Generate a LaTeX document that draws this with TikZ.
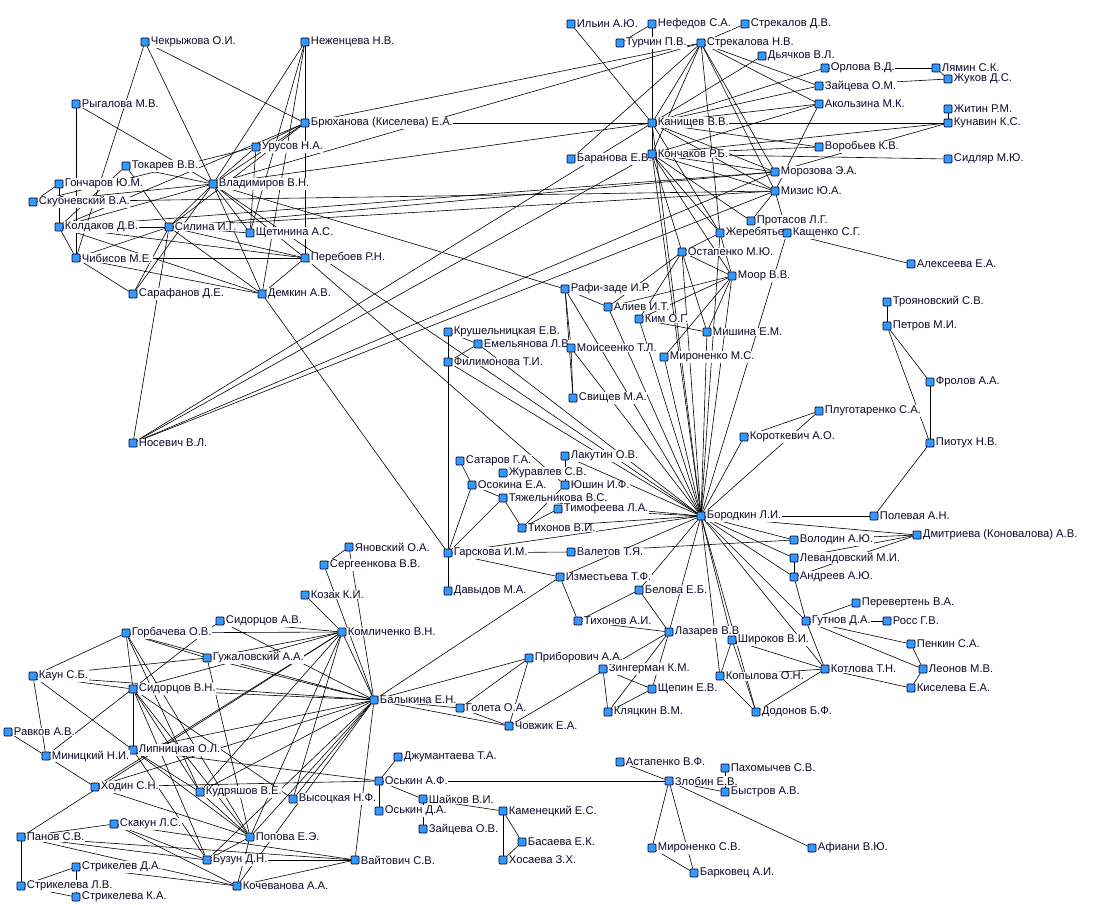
\documentclass[tikz,border=0pt]{standalone}
\usepackage{fontspec}
\setmainfont{Liberation Sans}
\usetikzlibrary{backgrounds}
\definecolor{nodeblue}{RGB}{51,153,255}
\definecolor{txt}{RGB}{10,10,40}
\tikzset{
  sq/.style={draw=black!85!blue,fill=nodeblue,line width=0.5pt,minimum size=6pt,inner sep=0pt,rounded corners=0.6pt},
  lbl/.style={font=\fontsize{8.4}{9}\selectfont,text=txt,fill=white,inner sep=0.4pt,label distance=0.6pt},
  lnk/.style={line width=0.45pt,black}
}
\newcommand\mkn[4]{\node[sq,label={[lbl]right:#4}] (#1) at (#2,#3) {};}
\newcommand\lk[2]{\draw[lnk] (#1) -- (#2);}
\begin{document}
\begin{tikzpicture}[x=0.75pt,y=-0.75pt]
\useasboundingbox (0,0) rectangle (1116,905);
% ---- nodes ----
\mkn{chekr}{145}{42}{Чекрыжова О.И.}
\mkn{nezh}{305}{42}{Неженцева Н.В.}
\mkn{ryg}{76}{104}{Рыгалова М.В.}
\mkn{bruh}{305}{123}{Брюханова (Киселева) Е.А.}
\mkn{urus}{256}{147}{Урусов Н.А.}
\mkn{tok}{126}{166}{Токарев В.В.}
\mkn{gonch}{59}{184}{Гончаров Ю.М.}
\mkn{vlad}{213}{184}{Владимиров В.Н.}
\mkn{skub}{33}{202}{Скубневский В.А.}
\mkn{kold}{59}{227}{Колдаков Д.В.}
\mkn{silina}{169}{227}{Силина И.Г.}
\mkn{shchet}{250}{233}{Щетинина А.С.}
\mkn{chib}{76}{258}{Чибисов М.Е.}
\mkn{pereb}{305}{258}{Перебоев Р.Н.}
\mkn{saraf}{133}{294}{Сарафанов Д.Е.}
\mkn{demk}{262}{294}{Демкин А.В.}
\mkn{nosev}{133}{443}{Носевич В.Л.}
\mkn{ilin}{571}{24}{Ильин А.Ю.}
\mkn{nefed}{652}{24}{Нефедов С.А.}
\mkn{strekd}{745}{24}{Стрекалов Д.В.}
\mkn{turch}{620}{43}{Турчин П.В.}
\mkn{streka}{701}{43}{Стрекалова Н.В.}
\mkn{dyach}{762}{56}{Дьячков В.Л.}
\mkn{orlova}{825}{68}{Орлова В.Д.}
\mkn{lyamin}{936}{68}{Лямин С.К.}
\mkn{zhukov}{948}{79}{Жуков Д.С.}
\mkn{zaitom}{819}{86}{Зайцева О.М.}
\mkn{akolz}{819}{104}{Акользина М.К.}
\mkn{zhitin}{948}{109}{Житин Р.М.}
\mkn{kanish}{652}{123}{Канищев В.В.}
\mkn{kunav}{948}{123}{Кунавин К.С.}
\mkn{baran}{571}{159}{Баранова Е.В.}
\mkn{konch}{652}{154}{Кончаков Р.Б.}
\mkn{vorob}{819}{147}{Воробьев К.В.}
\mkn{sidl}{948}{159}{Сидляр М.Ю.}
\mkn{moroz}{775}{172}{Морозова Э.А.}
\mkn{mizis}{775}{191}{Мизис Ю.А.}
\mkn{protas}{751}{221}{Протасов Л.Г.}
\mkn{zhereb}{720}{233}{Жеребятьев}
\mkn{kasch}{787}{233}{Кащенко С.Г.}
\mkn{ostap}{682}{252}{Остапенко М.Ю.}
\mkn{alex}{911}{264}{Алексеева Е.А.}
\mkn{moor}{732}{276}{Моор В.В.}
\mkn{rafi}{565}{289}{Рафи-заде И.Р.}
\mkn{aliev}{608}{307}{Алиев И.Т.}
\mkn{kim}{639}{319}{Ким О.Г.}
\mkn{mishina}{707}{332}{Мишина Е.М.}
\mkn{krush}{448}{332}{Крушельницкая Е.В.}
\mkn{emel}{478}{344}{Емельянова Л.В.}
\mkn{moiss}{571}{348}{Моисеенко Т.Л.}
\mkn{mironms}{664}{357}{Мироненко М.С.}
\mkn{filim}{448}{362}{Филимонова Т.И.}
\mkn{svish}{573}{398}{Свищев М.А.}
\mkn{troyan}{887}{302}{Трояновский С.В.}
\mkn{petrov}{887}{326}{Петров М.И.}
\mkn{frolov}{930}{382}{Фролов А.А.}
\mkn{plugo}{819}{411}{Плуготаренко С.А.}
\mkn{korotk}{744}{437}{Короткевич А.О.}
\mkn{piotuh}{930}{443}{Пиотух Н.В.}
\mkn{satar}{460}{461}{Сатаров Г.А.}
\mkn{lakut}{565}{456}{Лакутин О.В.}
\mkn{zhurav}{503}{473}{Журавлев С.В.}
\mkn{osok}{472}{485}{Осокина Е.А.}
\mkn{yushin}{565}{485}{Юшин И.Ф.}
\mkn{tyazh}{503}{498}{Тяжельникова В.С.}
\mkn{timof}{558}{509}{Тимофеева Л.А.}
\mkn{borod}{701}{516}{Бородкин Л.И.}
\mkn{polev}{874}{516}{Полевая А.Н.}
\mkn{tihvi}{522}{528}{Тихонов В.И.}
\mkn{volod}{794}{540}{Володин А.Ю.}
\mkn{dmitr}{917}{535}{Дмитриева (Коновалова) А.В.}
\mkn{garsk}{448}{553}{Гарскова И.М.}
\mkn{valet}{571}{552}{Валетов Т.Я.}
\mkn{levand}{794}{558}{Левандовский М.И.}
\mkn{izmest}{560}{577}{Изместьева Т.Ф.}
\mkn{andreev}{794}{577}{Андреев А.Ю.}
\mkn{davyd}{448}{591}{Давыдов М.А.}
\mkn{belova}{639}{590}{Белова Е.Б.}
\mkn{perev}{856}{603}{Перевертень В.А.}
\mkn{gutnov}{806}{621}{Гутнов Д.А.}
\mkn{ross}{887}{621}{Росс Г.В.}
\mkn{tihai}{578}{621}{Тихонов А.И.}
\mkn{lazar}{669}{632}{Лазарев В.В}
\mkn{shirok}{732}{640}{Широков В.И.}
\mkn{penkin}{911}{644}{Пенкин С.А.}
\mkn{zinger}{603}{669}{Зингерман К.М.}
\mkn{kopyl}{720}{676}{Копылова О.Н.}
\mkn{kotlova}{825}{669}{Котлова Т.Н.}
\mkn{leonov}{923}{669}{Леонов М.В.}
\mkn{shchep}{652}{689}{Щепин Е.В.}
\mkn{kiseleva}{911}{688}{Киселева Е.А.}
\mkn{klyats}{608}{712}{Кляцкин В.М.}
\mkn{dodon}{756}{712}{Додонов Б.Ф.}
\mkn{yanov}{349}{547}{Яновский О.А.}
\mkn{serg}{324}{565}{Сергеенкова В.В.}
\mkn{kozak}{305}{595}{Козак К.И.}
\mkn{komlich}{342}{632}{Комличенко В.Н.}
\mkn{sidav}{220}{621}{Сидорцов А.В.}
\mkn{gorb}{126}{633}{Горбачева О.В.}
\mkn{guzh}{207}{658}{Гужаловский А.А.}
\mkn{pribor}{529}{658}{Приборович А.А.}
\mkn{kaun}{33}{676}{Каун С.Б.}
\mkn{sidvn}{133}{689}{Сидорцов В.Н.}
\mkn{balyk}{374}{700}{Балыкина Е.Н.}
\mkn{goleta}{460}{708}{Голета О.А.}
\mkn{chovzh}{509}{726}{Човжик Е.А.}
\mkn{ravkov}{8}{732}{Равков А.В.}
\mkn{lipn}{133}{750}{Липницкая О.Л.}
\mkn{minits}{46}{756}{Миницкий Н.И.}
\mkn{dzhum}{398}{757}{Джумантаева Т.А.}
\mkn{astap}{620}{762}{Астапенко В.Ф.}
\mkn{pahom}{725}{768}{Пахомычев С.В.}
\mkn{hodin}{95}{787}{Ходин С.Н.}
\mkn{oskaf}{379}{781}{Оськин А.Ф.}
\mkn{zlobin}{669}{781}{Злобин Е.В.}
\mkn{kudr}{200}{792}{Кудряшов В.Е.}
\mkn{bystr}{725}{792}{Быстров А.В.}
\mkn{vysots}{293}{799}{Высоцкая Н.Ф.}
\mkn{shaik}{423}{799}{Шайков В.И.}
\mkn{kamen}{503}{811}{Каменецкий Е.С.}
\mkn{oskda}{379}{811}{Оськин Д.А.}
\mkn{skakun}{114}{824}{Скакун Л.С.}
\mkn{zaitov}{423}{829}{Зайцева О.В.}
\mkn{panov}{21}{837}{Панов С.В.}
\mkn{popova}{250}{837}{Попова Е.Э.}
\mkn{basaeva}{522}{842}{Басаева Е.К.}
\mkn{mironsv}{652}{848}{Мироненко С.В.}
\mkn{afiani}{812}{848}{Афиани В.Ю.}
\mkn{buzun}{207}{860}{Бузун Д.Н.}
\mkn{strikda}{76}{867}{Стрикелев Д.А.}
\mkn{vaitov}{355}{860}{Вайтович С.В.}
\mkn{hosaeva}{503}{860}{Хосаева З.Х.}
\mkn{barkov}{694}{873}{Барковец А.И.}
\mkn{striklv}{21}{886}{Стрикелева Л.В.}
\mkn{kochev}{237}{886}{Кочеванова А.А.}
\mkn{strikka}{76}{897}{Стрикелева К.А.}
% ---- links ----
\begin{scope}[on background layer]
\foreach \a/\b in {chekr/vlad,chekr/chib,chekr/bruh,ryg/chib,ryg/vlad,nezh/bruh,bruh/pereb,nezh/vlad,nezh/shchet,nezh/demk,
bruh/vlad,bruh/urus,bruh/silina,bruh/kold,bruh/kanish,bruh/streka,tok/vlad,tok/kold,tok/silina,gonch/skub,gonch/kold,
skub/vlad,kold/vlad,kold/chib,kold/silina,kold/demk,kold/pereb,chib/silina,chib/saraf,chib/demk,chib/pereb,silina/saraf,
silina/nosev,silina/vlad,silina/demk,silina/pereb,silina/shchet,vlad/shchet,vlad/pereb,vlad/demk,vlad/urus,urus/shchet,
urus/skub,pereb/demk,saraf/vlad,demk/garsk,vlad/kanish,vlad/streka,vlad/rafi,vlad/borod,silina/moroz,silina/mizis,
skub/mizis,kold/moroz,nosev/kanish,nosev/konch,nosev/moroz,nosev/mizis,pereb/yushin,
ilin/kanish,nefed/turch,nefed/kanish,strekd/streka,streka/kanish,streka/konch,streka/baran,streka/zaitom,streka/akolz,
streka/moroz,streka/mizis,streka/zhereb,dyach/kanish,orlova/kanish,orlova/lyamin,zaitom/zhukov,lyamin/zhukov,
zhitin/kunav,kanish/kunav,konch/kunav,moroz/kunav,konch/sidl,konch/vorob,kanish/vorob,kanish/akolz,kanish/zaitom,
konch/akolz,kanish/konch,kanish/moroz,kanish/mizis,konch/moroz,konch/mizis,akolz/mizis,mizis/protas,mizis/kasch,
konch/protas,kasch/alex,kasch/borod,konch/zhereb,kanish/zhereb,kanish/borod,konch/borod,konch/ostap,konch/moor,
ostap/moor,ostap/zhereb,ostap/aliev,ostap/kim,ostap/mishina,ostap/borod,moor/zhereb,moor/mishina,moor/kim,moor/mironms,
moor/borod,moor/aliev,zhereb/borod,mishina/kim,mishina/borod,kim/borod,mironms/borod,aliev/borod,rafi/aliev,rafi/moiss,
rafi/svish,rafi/borod,moiss/svish,moiss/borod,
krush/emel,krush/filim,filim/garsk,garsk/davyd,emel/filim,filim/borod,emel/borod,satar/osok,osok/tyazh,osok/garsk,
tyazh/garsk,tyazh/tihvi,tihvi/yushin,tihvi/timof,lakut/yushin,lakut/borod,tyazh/borod,timof/borod,tihvi/borod,
garsk/borod,garsk/valet,garsk/izmest,valet/volod,izmest/borod,izmest/balyk,izmest/tihai,belova/borod,belova/tihai,
belova/lazar,korotk/borod,korotk/plugo,plugo/borod,polev/borod,polev/piotuh,piotuh/frolov,frolov/petrov,piotuh/petrov,
petrov/troyan,dmitr/borod,dmitr/volod,dmitr/levand,dmitr/andreev,volod/borod,levand/andreev,andreev/borod,levand/borod,
andreev/gutnov,gutnov/perev,gutnov/ross,gutnov/penkin,gutnov/leonov,gutnov/kotlova,penkin/leonov,leonov/kiseleva,
kotlova/kiseleva,borod/gutnov,borod/kotlova,borod/shirok,borod/kopyl,borod/dodon,borod/lazar,tihai/lazar,lazar/chovzh,
lazar/shchep,lazar/klyats,zinger/shchep,zinger/klyats,shchep/klyats,shirok/kopyl,shirok/dodon,shirok/kotlova,
kopyl/dodon,kopyl/kotlova,dodon/kotlova,
yanov/serg,yanov/balyk,serg/balyk,kozak/komlich,sidav/komlich,sidav/balyk,gorb/kaun,gorb/sidvn,gorb/guzh,gorb/komlich,
gorb/balyk,gorb/kudr,gorb/popova,guzh/komlich,guzh/balyk,guzh/kaun,guzh/popova,kaun/sidvn,kaun/minits,kaun/lipn,
kaun/balyk,sidvn/lipn,sidav/minits,sidvn/kudr,sidvn/popova,sidvn/balyk,sidvn/komlich,sidvn/vysots,sidvn/buzun,
ravkov/minits,minits/hodin,lipn/kudr,lipn/popova,lipn/balyk,lipn/oskaf,lipn/buzun,hodin/popova,hodin/balyk,hodin/oskaf,
hodin/komlich,kudr/balyk,kudr/komlich,kudr/popova,vysots/balyk,vysots/komlich,popova/balyk,popova/komlich,popova/buzun,
buzun/balyk,buzun/vaitov,buzun/skakun,buzun/panov,kochev/vaitov,kochev/skakun,kochev/panov,kochev/strikda,kochev/balyk,
kochev/popova,panov/striklv,panov/skakun,panov/vaitov,panov/komlich,skakun/vaitov,strikda/striklv,strikda/strikka,
striklv/strikka,vaitov/balyk,balyk/komlich,balyk/goleta,balyk/chovzh,balyk/pribor,goleta/pribor,goleta/chovzh,
pribor/chovzh,oskaf/dzhum,oskaf/oskda,oskaf/shaik,oskaf/zlobin,shaik/kamen,shaik/zaitov,kamen/basaeva,kamen/hosaeva,
basaeva/hosaeva,zlobin/astap,zlobin/bystr,bystr/pahom,zlobin/mironsv,zlobin/barkov,mironsv/barkov,zlobin/afiani}
  {\lk{\a}{\b}}
\end{scope}
\end{tikzpicture}
\end{document}
